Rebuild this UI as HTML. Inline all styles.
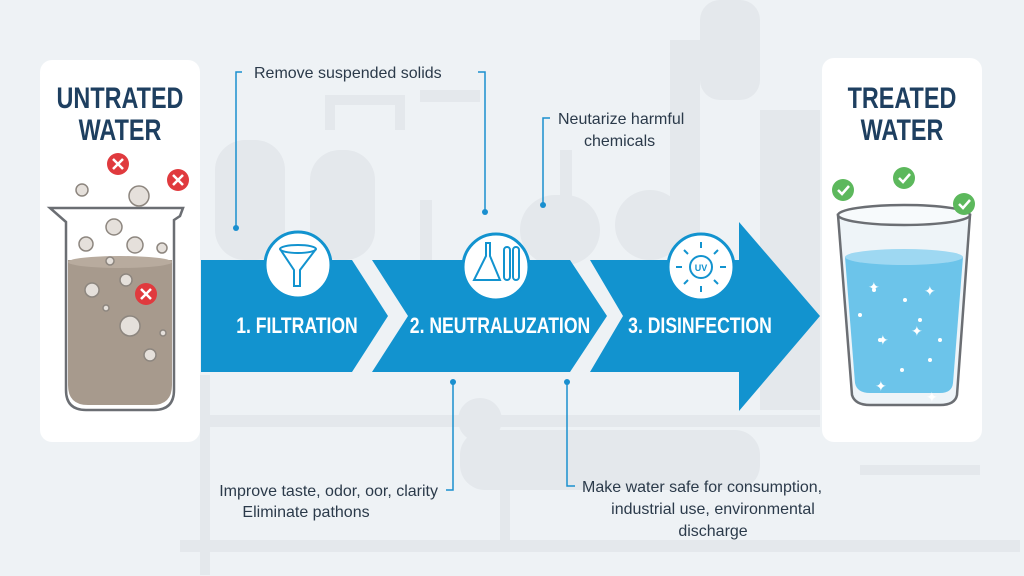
<!DOCTYPE html>
<html><head><meta charset="utf-8"><style>
html,body{margin:0;padding:0;width:1024px;height:576px;overflow:hidden;background:#eef2f5}
svg{display:block}
.t{font-family:"Liberation Sans",sans-serif;fill:#2b3a4a;font-size:16px}
.h{font-family:"Liberation Sans",sans-serif;font-weight:bold;fill:#1e3f60;font-size:30px}
.b{font-family:"Liberation Sans",sans-serif;font-weight:bold;fill:#fff;font-size:22px}
</style></head><body>
<svg width="1024" height="576" viewBox="0 0 1024 576" xmlns="http://www.w3.org/2000/svg">
<rect width="1024" height="576" fill="#eef2f5"/>
<g fill="#e4e8ec" stroke="none">
<rect x="700" y="0" width="60" height="100" rx="20"/>
<rect x="760" y="110" width="60" height="300"/>
<rect x="670" y="40" width="30" height="200"/>
<rect x="215" y="140" width="70" height="120" rx="30"/>
<rect x="310" y="150" width="65" height="110" rx="30"/>
<rect x="520" y="195" width="80" height="70" rx="35"/>
<rect x="615" y="190" width="70" height="70" rx="35"/>
<rect x="460" y="430" width="300" height="60" rx="25"/>
<circle cx="480" cy="420" r="22"/>
<rect x="200" y="415" width="620" height="12"/>
<rect x="180" y="540" width="840" height="12"/>
<rect x="420" y="200" width="12" height="60"/>
<rect x="200" y="375" width="10" height="200"/>
<rect x="420" y="90" width="60" height="12"/>
<rect x="560" y="150" width="12" height="60"/>
</g>
<g fill="none" stroke="#e4e8ec" stroke-width="10">
<path d="M505 460 V545 H1000"/>
<path d="M330 130 V100 H400 V130"/>
<path d="M860 470 H980"/>
</g>
<rect x="40" y="60" width="160" height="382" rx="12" fill="#fff"/>
<rect x="822" y="58" width="160" height="384" rx="12" fill="#fff"/>
<text class="h" x="120" y="108" text-anchor="middle" transform="translate(120 0) scale(0.78 1) translate(-120 0)">UNTRATED</text>
<text class="h" x="120" y="140" text-anchor="middle" transform="translate(120 0) scale(0.78 1) translate(-120 0)">WATER</text>
<text class="h" x="902" y="108" text-anchor="middle" transform="translate(902 0) scale(0.78 1) translate(-902 0)">TREATED</text>
<text class="h" x="902" y="140" text-anchor="middle" transform="translate(902 0) scale(0.78 1) translate(-902 0)">WATER</text>
<path d="M68 260 H172 V385 Q172 405 152 405 H88 Q68 405 68 385 Z" fill="#a79a8d"/>
<ellipse cx="120" cy="262" rx="52" ry="6" fill="#b8ab9e"/>
<path d="M50 208 H183 L180 216 L174 220 V390 Q174 410 154 410 H86 Q66 410 66 390 V222 Z" fill="none" stroke="#6b6e73" stroke-width="2.5"/>
<g fill="#e5e0db" stroke="#8d867f" stroke-width="1.5">
<circle cx="82" cy="190" r="6"/><circle cx="139" cy="196" r="10"/><circle cx="114" cy="227" r="8"/>
<circle cx="86" cy="244" r="7"/><circle cx="135" cy="245" r="8"/><circle cx="162" cy="248" r="5"/>
<circle cx="110" cy="261" r="4"/><circle cx="126" cy="280" r="6"/><circle cx="92" cy="290" r="7"/>
<circle cx="130" cy="326" r="10"/><circle cx="106" cy="308" r="3"/><circle cx="163" cy="333" r="3"/>
<circle cx="150" cy="355" r="6"/>
</g>
<g fill="#e03a3e"><circle cx="118" cy="164" r="11"/><circle cx="178" cy="180" r="11"/><circle cx="146" cy="294" r="11"/></g>
<g stroke="#fff" stroke-width="2.5"><path d="M113 159l10 10M123 159l-10 10M173 175l10 10M183 175l-10 10M141 289l10 10M151 289l-10 10"/></g>
<path d="M838 215 L852 395 Q855 405 870 405 H940 Q955 405 957 395 L970 215 Z" fill="#eef4f8" stroke="#6b6e73" stroke-width="2.5"/>
<path d="M845 257 L855 383 Q857 393 870 393 H940 Q952 393 953 383 L963 257 Z" fill="#6cc4ea"/>
<ellipse cx="904" cy="257" rx="59" ry="8" fill="#9ed8f2"/>
<ellipse cx="904" cy="215" rx="66" ry="10" fill="#f7fafc" stroke="#6b6e73" stroke-width="2.5"/>
<g fill="#fff"><circle cx="874" cy="290" r="2"/><circle cx="905" cy="300" r="2"/><circle cx="920" cy="320" r="2"/><circle cx="880" cy="340" r="2"/><circle cx="930" cy="360" r="2"/><circle cx="902" cy="370" r="2"/><circle cx="940" cy="340" r="2"/><circle cx="860" cy="315" r="2"/></g>
<g fill="#fff" font-size="14" font-family="DejaVu Sans"><text x="868" y="292">✦</text><text x="924" y="296">✦</text><text x="877" y="345">✦</text><text x="911" y="336">✦</text><text x="875" y="391">✦</text><text x="926" y="402">✦</text></g>
<g fill="#5cb85c"><circle cx="843" cy="190" r="11"/><circle cx="904" cy="178" r="11"/><circle cx="964" cy="204" r="11"/></g>
<g stroke="#fff" stroke-width="2.5" fill="none"><path d="M838 190l4 4 7-8M899 178l4 4 7-8M959 204l4 4 7-8"/></g>
<g fill="#1293cf">
<polygon points="201,260 352,260 388,316 352,372 201,372"/>
<polygon points="372,260 570,260 607,316 570,372 372,372 408,316"/>
<polygon points="590,260 739,260 739,222 820,316 739,411 739,372 590,372 623,316"/>
</g>
<g fill="#fff" stroke="#1293cf" stroke-width="3">
<circle cx="298" cy="265" r="33"/><circle cx="496" cy="267" r="33"/><circle cx="701" cy="267" r="33"/>
</g>
<g fill="none" stroke="#1293cf" stroke-width="2">
<ellipse cx="298" cy="249" rx="18" ry="4"/><path d="M280 249 L294 270 V286 H300 V270 L316 249"/>
<path d="M486 243 V256 L474 280 H500 L490 256 V243 Z"/><rect x="504" y="247" width="6" height="33" rx="3"/><rect x="513" y="247" width="6" height="33" rx="3"/>
<circle cx="701" cy="267" r="11"/><path d="M701 248v-6M701 286v6M682 267h-6M720 267h6M688 254l-4-4M714 254l4-4M688 280l-4 4M714 280l4 4"/>
</g>
<text x="701" y="271" font-family="Liberation Sans" font-size="9" font-weight="bold" fill="#1293cf" text-anchor="middle">UV</text>
<text class="b" x="297" y="333" text-anchor="middle" transform="translate(297 0) scale(0.8 1) translate(-297 0)">1. FILTRATION</text>
<text class="b" x="500" y="333" text-anchor="middle" transform="translate(500 0) scale(0.8 1) translate(-500 0)">2. NEUTRALUZATION</text>
<text class="b" x="700" y="333" text-anchor="middle" transform="translate(700 0) scale(0.8 1) translate(-700 0)">3. DISINFECTION</text>
<g stroke="#1a8fcf" stroke-width="1.5" fill="none">
<path d="M242 72 H236 V228"/><path d="M478 72 H485 V212"/>
<path d="M550 118 H543 V205"/>
<path d="M453 382 V490 H446"/><path d="M567 382 V486 H575"/>
</g>
<g fill="#1a8fcf"><circle cx="236" cy="228" r="3"/><circle cx="485" cy="212" r="3"/><circle cx="543" cy="205" r="3"/><circle cx="453" cy="382" r="3"/><circle cx="567" cy="382" r="3"/></g>
<text class="t" x="254" y="78">Remove suspended solids</text>
<text class="t" x="558" y="124">Neutarize harmful</text>
<text class="t" x="584" y="146">chemicals</text>
<text class="t" x="438" y="496" text-anchor="end">Improve taste, odor, oor, clarity</text>
<text class="t" x="306" y="517" text-anchor="middle">Eliminate pathons</text>
<text class="t" x="582" y="492">Make water safe for consumption,</text>
<text class="t" x="713" y="514" text-anchor="middle">industrial use, environmental</text>
<text class="t" x="713" y="536" text-anchor="middle">discharge</text>
</svg>
</body></html>
